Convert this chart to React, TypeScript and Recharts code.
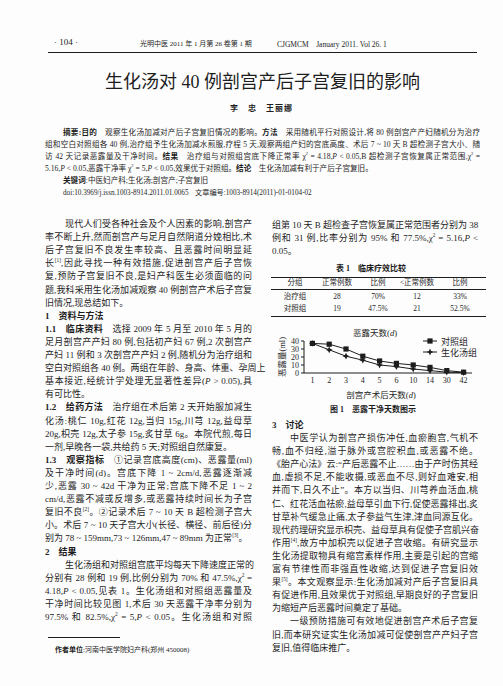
import React from "react";
import { LineChart, Line, XAxis, YAxis, Legend } from "recharts";

// chart data (图1 恶露干净天数图示)
const days = ["1", "2", "3", "4", "5", "6", "10", "14", "30", "42"];
const controlVals = [37, 36, 30, 21, 15, 12, 10, 7, 3, 1];
const herbalVals = [37, 29, 21, 16, 10, 8, 5, 3, 1, 0.5];
const yTicks = [0, 10, 20, 30, 40];
const seriesNames = ["对照组", "生化汤组"];

// table 1
const tableHead = ["分组", "正常例数", "比例", "<正常例数", "比例"];
const tableRows = [
  ["治疗组", "28", "70%", "12", "33%"],
  ["对照组", "19", "47.5%", "21", "52.5%"],
];

const data = days.map((d, i) => ({ day: d, control: controlVals[i], herbal: herbalVals[i] }));

const INK = "#1d1d1d";
const FONT = '"Liberation Serif", "Noto Sans CJK SC", serif';

const supStyle: React.CSSProperties = { fontSize: "0.6em", verticalAlign: "super", lineHeight: 0 };

function inline(s: string, k: string) {
  return s.split(/(χ2|\[\d\]|\bP\b)/).map((p, i) => {
    if (p === "χ2") return <span key={k + i}>χ<sup style={supStyle}>2</sup></span>;
    if (/^\[\d\]$/.test(p)) return <sup key={k + i} style={supStyle}>{p}</sup>;
    if (p === "P") return <i key={k + i}>P</i>;
    return <React.Fragment key={k + i}>{p}</React.Fragment>;
  });
}

function fmt(s: string) {
  return s.split(/(\*\*[^*]+\*\*)/).map((p, i) =>
    p.startsWith("**") ? (
      <b key={i} style={{ fontWeight: 700 }}>{inline(p.slice(2, -2), "b" + i)}</b>
    ) : (
      <React.Fragment key={i}>{inline(p, "t" + i)}</React.Fragment>
    )
  );
}

function TextLine({ x, y, w, text, size = 9, j = true, style }: { x: number; y: number; w: number; text: string; size?: number; j?: boolean; style?: React.CSSProperties }) {
  return (
    <div
      style={{
        position: "absolute",
        left: x,
        top: y - 6,
        width: w,
        height: 12,
        lineHeight: "12px",
        fontSize: size,
        textAlign: j ? "justify" : "left",
        textAlignLast: j ? "justify" : "left",
        whiteSpace: "nowrap",
        ...style,
      }}
    >
      {fmt(text)}
    </div>
  );
}

const abstractLines = [
  "**摘要:目的**　观察生化汤加减对产后子宫复旧情况的影响。**方法**　采用随机平行对照设计,将 80 例剖宫产产妇随机分为治疗",
  "组和空白对照组各 40 例,治疗组予生化汤加减水煎服,疗程 5 天,观察两组产妇的宫底高度、术后 7 ~ 10 天 B 超检测子宫大小、随",
  "访 42 天记录恶露量及干净时间。**结果**　治疗组与对照组宫底下降正常率 χ2 = 4.18,P < 0.05,B 超检测子宫恢复属正常范围,χ2 =",
  "5.16,P < 0.05,恶露干净率 χ2 = 5,P < 0.05,效果优于对照组。**结论**　生化汤加减有利于产后子宫复旧。",
];

const leftLines: [string, number, boolean][] = [
  ["现代人们受各种社会及个人因素的影响,剖宫产", 20, true],
  ["率不断上升,然而剖宫产与足月自然阴道分娩相比,术", 0, true],
  ["后子宫复旧不良发生率较高、且恶露时间明显延", 0, true],
  ["长[1],因此寻找一种有效措施,促进剖宫产后子宫恢", 0, true],
  ["复,预防子宫复旧不良,是妇产科医生必须面临的问", 0, true],
  ["题,我科采用生化汤加减观察 40 例剖宫产术后子宫复", 0, true],
  ["旧情况,现总结如下。", 0, false],
  ["**1　资料与方法**", 0, false],
  ["**1.1　临床资料**　选择 2009 年 5 月至 2010 年 5 月的", 0, true],
  ["足月剖宫产产妇 80 例,包括初产妇 67 例,2 次剖宫产", 0, true],
  ["产妇 11 例和 3 次剖宫产产妇 2 例,随机分为治疗组和", 0, true],
  ["空白对照组各 40 例。两组在年龄、身高、体重、孕周上", 0, true],
  ["基本接近,经统计学处理无显著性差异(P > 0.05),具", 0, true],
  ["有可比性。", 0, false],
  ["**1.2　给药方法**　治疗组在术后第 2 天开始服加减生", 0, true],
  ["化汤:桃仁 10g,红花 12g,当归 15g,川芎 12g,益母草", 0, true],
  ["20g,枳壳 12g,太子参 15g,炙甘草 6g。本院代煎,每日", 0, true],
  ["一剂,早晚各一袋,共给药 5 天;对照组自然康复。", 0, false],
  ["**1.3　观察指标**　①记录宫底高度(cm)、恶露量(ml)", 0, true],
  ["及干净时间(d)。宫底下降 1 ~ 2cm/d,恶露逐渐减", 0, true],
  ["少,恶露 30 ~ 42d 干净为正常;宫底下降不足 1 ~ 2", 0, true],
  ["cm/d,恶露不减或反增多,或恶露持续时间长为子宫", 0, true],
  ["复旧不良[2]。②记录术后 7 ~ 10 天 B 超检测子宫大", 0, true],
  ["小。术后 7 ~ 10 天子宫大小(长径、横径、前后径)分", 0, true],
  ["别为 78 ~ 159mm,73 ~ 126mm,47 ~ 89mm 为正常[3]。", 0, false],
  ["**2　结果**", 0, false],
  ["生化汤组和对照组宫底平均每天下降速度正常的", 20, true],
  ["分别有 28 例和 19 例,比例分别为 70% 和 47.5%,χ2 =", 0, true],
  ["4.18,P < 0.05,见表 1。生化汤组和对照组恶露量及", 0, true],
  ["干净时间比较见图 1,术后 30 天恶露干净率分别为", 0, true],
  ["97.5% 和 82.5%,χ2 = 5,P < 0.05。生化汤组和对照", 0, true],
];

const rightTop: [string, number, boolean][] = [
  ["组第 10 天 B 超检查子宫恢复属正常范围者分别为 38", 0, true],
  ["例和 31 例,比率分别为 95% 和 77.5%,χ2 = 5.16,P <", 0, true],
  ["0.05。", 0, false],
];

const rightBottom: [string, number, boolean][] = [
  ["中医学认为剖宫产损伤冲任,血瘀胞宫,气机不", 18, true],
  ["畅,血不归经,溢于脉外或宫腔积血,或恶露不绝。", 0, true],
  ["《胎产心法》云:“产后恶露不止……由于产时伤其经", 0, true],
  ["血,虚损不足,不能收摄,或恶血不尽,则好血难安,相", 0, true],
  ["并而下,日久不止”。本方以当归、川芎养血活血,桃", 0, true],
  ["仁、红花活血祛瘀,益母草引血下行,促使恶露排出,炙", 0, true],
  ["甘草补气缓急止痛,太子参益气生津,津血同源互化。", 0, true],
  ["现代药理研究显示枳壳、益母草具有促使子宫肌兴奋", 0, true],
  ["作用[4],故方中加枳壳以促进子宫收缩。有研究显示", 0, true],
  ["生化汤提取物具有缩宫素样作用,主要是引起的宫缩", 0, true],
  ["富有节律性而非强直性收缩,达到促进子宫复旧效", 0, true],
  ["果[5]。本文观察显示:生化汤加减对产后子宫复旧具", 0, true],
  ["有促进作用,且效果优于对照组,早期良好的子宫复旧", 0, true],
  ["为缩短产后恶露时间奠定了基础。", 0, false],
  ["一级预防措施可有效地促进剖宫产术后子宫复", 18, true],
  ["旧,而本研究证实生化汤加减可促使剖宫产产妇子宫", 0, true],
  ["复旧,值得临床推广。", 0, false],
];

function Square(props: any) {
  const { cx, cy } = props;
  if (cx == null || cy == null) return <g />;
  return <rect x={cx - 2.6} y={cy - 2.6} width={5.2} height={5.2} fill={INK} />;
}

function Star(props: any) {
  const { cx, cy } = props;
  if (cx == null || cy == null) return <g />;
  const r = 3.4;
  const q = 1.1;
  const d = `M${cx},${cy - r} L${cx + q},${cy - q} L${cx + r},${cy} L${cx + q},${cy + q} L${cx},${cy + r} L${cx - q},${cy + q} L${cx - r},${cy} L${cx - q},${cy - q} Z`;
  return <path d={d} fill={INK} />;
}

function renderLegend(props: any) {
  const payload = props.payload || [];
  return (
    <div style={{ fontFamily: FONT, fontSize: 9, color: INK }}>
      {payload.map((p: any) => (
        <div key={p.value} style={{ display: "flex", alignItems: "center", height: 11 }}>
          <svg width={14} height={8} style={{ display: "block" }}>
            <line x1={0} y1={4} x2={14} y2={4} stroke={INK} strokeWidth={1} />
            {p.dataKey === "control" ? <Square cx={7} cy={4} /> : <Star cx={7} cy={4} />}
          </svg>
          <span style={{ marginLeft: 4 }}>{p.value}</span>
        </div>
      ))}
    </div>
  );
}

function LochiaChart() {
  return (
    <LineChart width={245} height={80} data={data} margin={{ top: 16, right: 28, bottom: 18, left: 0 }}>
      <XAxis
        dataKey="day"
        height={14}
        padding={{ left: 8.4, right: 8.4 }}
        tickLine={false}
        tickSize={3}
        tickMargin={1}
        axisLine={{ stroke: INK, strokeWidth: 1 }}
        tick={{ fontSize: 8, fill: INK, fontFamily: FONT }}
        interval={0}
      />
      <YAxis
        width={49}
        domain={[0, 40]}
        ticks={yTicks}
        tickSize={3}
        tickMargin={2}
        axisLine={{ stroke: INK, strokeWidth: 1 }}
        tickLine={{ stroke: INK }}
        tick={{ fontSize: 8, fill: INK, fontFamily: FONT }}
        interval={0}
      />
      <Legend
        layout="vertical"
        align="center"
        verticalAlign="middle"
        content={renderLegend}
        wrapperStyle={{ position: "absolute", top: 10.5, left: 168, width: 70, height: 24 }}
      />
      <Line
        type="linear"
        dataKey="control"
        name={seriesNames[0]}
        stroke={INK}
        strokeWidth={1}
        dot={<Square />}
        activeDot={false}
        isAnimationActive={false}
      />
      <Line
        type="linear"
        dataKey="herbal"
        name={seriesNames[1]}
        stroke={INK}
        strokeWidth={1}
        dot={<Star />}
        activeDot={false}
        isAnimationActive={false}
      />
    </LineChart>
  );
}

const LX = 45;
const LW = 207;
const RX = 272;
const RW = 206;
const STEP = 13.1;
const ABS_STEP = 12;

export default function App() {
  const colX = [295, 337, 378, 417, 460];
  return (
    <div
      style={{
        position: "absolute",
        left: 0,
        top: 0,
        width: 503,
        height: 686,
        background: "#fdfdfd",
        color: INK,
        fontFamily: FONT,
        overflow: "hidden",
      }}
    >
      {/* running header */}
      <div style={{ position: "absolute", left: 54, top: 37, fontSize: 9 }}>· 104 ·</div>
      <div style={{ position: "absolute", left: 140, top: 38, fontSize: 7, whiteSpace: "nowrap" }}>
        光明中医 2011 年 1 月第 26 卷第 1 期
      </div>
      <div style={{ position: "absolute", left: 277, top: 38, fontSize: 7.5, whiteSpace: "nowrap" }}>
        CJGMCM　January 2011. Vol 26. 1
      </div>
      <div style={{ position: "absolute", left: 48, top: 52, width: 429, height: 1, background: INK }} />

      {/* title */}
      <div
        style={{
          position: "absolute",
          left: 0,
          top: 70,
          width: 525,
          textAlign: "center",
          fontSize: 18,
          lineHeight: "24px",
          fontFamily: '"Liberation Serif", "Noto Sans CJK SC"',
          whiteSpace: "nowrap",
        }}
      >
        生化汤对 40 例剖宫产后子宫复旧的影响
      </div>
      <div style={{ position: "absolute", left: 230, top: 102, fontSize: 8, fontWeight: 700, letterSpacing: 1, whiteSpace: "nowrap" }}>
        李　忠　王丽娜
      </div>

      {/* abstract */}
      {abstractLines.map((t, i) => (
        <TextLine
          key={"a" + i}
          x={i === 0 ? 63 : LX}
          y={133 + i * ABS_STEP}
          w={i === 0 ? 417 : 435}
          text={t}
          size={7.6}
          j={i < 3}
        />
      ))}
      <TextLine x={63} y={133 + 4 * ABS_STEP} w={300} j={false} size={7.6} text="**关键词**:中医妇产科;生化汤;剖宫产;子宫复旧" />
      <TextLine x={63} y={133 + 5 * ABS_STEP} w={110} j={false} size={7.2} text="doi:10.3969/j.issn.1003-8914.2011.01.0065" />
      <TextLine x={195} y={133 + 5 * ABS_STEP} w={160} j={false} size={7.2} text="文章编号:1003-8914(2011)-01-0104-02" />

      {/* left column */}
      {leftLines.map(([t, ind, j], i) => (
        <TextLine key={"l" + i} x={LX + ind} y={224 + i * STEP} w={LW - ind} text={t} j={j} />
      ))}
      <div style={{ position: "absolute", left: 48, top: 637, width: 72, height: 0.8, background: INK }} />
      <TextLine x={55} y={650} w={200} j={false} size={7} text="**作者单位**:河南中医学院妇产科(郑州 450008)" />

      {/* right column top */}
      {rightTop.map(([t, ind, j], i) => (
        <TextLine key={"r" + i} x={RX + ind} y={225 + i * STEP} w={RW - ind} text={t} j={j} />
      ))}

      {/* table 1 */}
      <div style={{ position: "absolute", left: 271, top: 262, width: 200, textAlign: "center", fontSize: 8, fontWeight: 700 }}>
        表 1　临床疗效比较
      </div>
      <div style={{ position: "absolute", left: 271, top: 276.5, width: 215, height: 1.3, background: INK }} />
      <div style={{ position: "absolute", left: 271, top: 289, width: 215, height: 0.6, background: INK }} />
      <div style={{ position: "absolute", left: 271, top: 315.5, width: 215, height: 1.3, background: INK }} />
      {tableHead.map((h, c) => (
        <div key={"h" + c} style={{ position: "absolute", left: colX[c] - 30, top: 278, width: 60, textAlign: "center", fontSize: 7.5, lineHeight: "10px" }}>
          {h}
        </div>
      ))}
      {tableRows.map((row, r) =>
        row.map((cell, c) => (
          <div key={"c" + r + c} style={{ position: "absolute", left: colX[c] - 30, top: 292 + r * 12, width: 60, textAlign: "center", fontSize: 7.5, lineHeight: "10px" }}>
            {cell}
          </div>
        ))
      )}

      {/* figure 1 */}
      <div style={{ position: "absolute", left: 325, top: 327, width: 100, textAlign: "center", fontSize: 8.5, lineHeight: "12px" }}>
        恶露天数(<i>d</i>)
      </div>
      <div style={{ position: "absolute", left: 255, top: 325, width: 245, height: 80 }}>
        <LochiaChart />
      </div>
      <div
        style={{
          position: "absolute",
          left: 252,
          top: 351,
          width: 60,
          height: 12,
          lineHeight: "12px",
          textAlign: "center",
          fontSize: 8.5,
          transform: "rotate(-90deg)",
        }}
      >
        恶露量(ml)
      </div>
      <div style={{ position: "absolute", left: 331, top: 389, width: 100, textAlign: "center", fontSize: 8.5, lineHeight: "12px" }}>
        剖宫产术后天数(<i>d</i>)
      </div>
      <div style={{ position: "absolute", left: 323, top: 404, width: 100, textAlign: "center", fontSize: 8, fontWeight: 700, lineHeight: "12px" }}>
        图 1　恶露干净天数图示
      </div>

      {/* right column discussion */}
      <TextLine x={RX} y={425} w={80} j={false} text="**3　讨论**" />
      {rightBottom.map(([t, ind, j], i) => (
        <TextLine key={"d" + i} x={RX + ind} y={438 + i * STEP} w={RW - ind} text={t} j={j} />
      ))}
    </div>
  );
}
